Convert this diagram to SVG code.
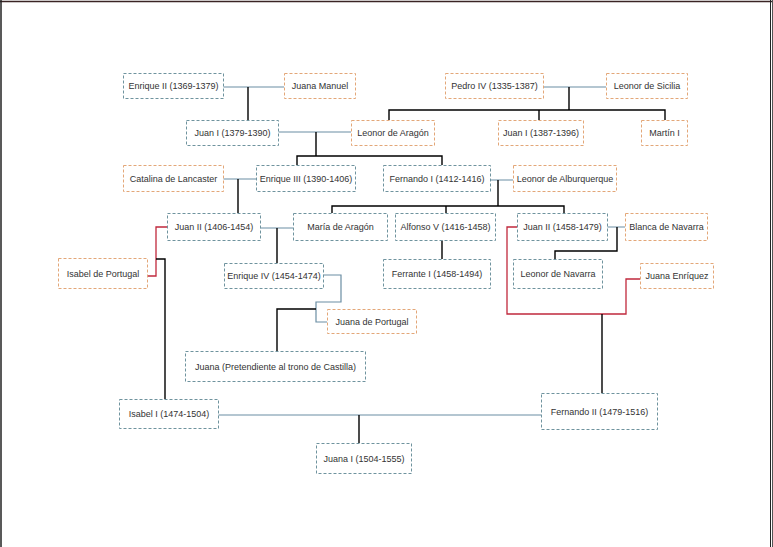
<svg xmlns="http://www.w3.org/2000/svg" width="773" height="547" viewBox="0 0 773 547">
<style>
.b{fill:#fff;stroke:#6f939e;stroke-width:1;stroke-dasharray:3,2}
.o{fill:#fff;stroke:#e3a778;stroke-width:1;stroke-dasharray:3,2}
text{font-family:"Liberation Sans",Arial,sans-serif;font-size:9px;fill:#333;text-anchor:middle}
.m{fill:none;stroke:#6b8ea3;stroke-width:1.2}
.r{fill:none;stroke:#c0283c;stroke-width:1.3}
.k{fill:none;stroke:#000;stroke-width:1.4}
</style>
<rect x="0" y="0" width="773" height="547" fill="#fff"/>
<g id="page" fill="none">
<line x1="0" y1="1.5" x2="773" y2="1.5" stroke="#3a2424" stroke-width="1.5"/>
<line x1="1" y1="0" x2="1" y2="547" stroke="#222" stroke-width="1.5"/>
<line x1="770.5" y1="0" x2="770.5" y2="547" stroke="#222" stroke-width="1"/>
<line x1="772.5" y1="0" x2="772.5" y2="547" stroke="#555" stroke-width="1"/>
</g>
<g id="connectors">
<path class="m" d="M223,87H284M543,87H606M278,132H351M223,179H256M490,180H513M260,228H293M607,227H625M323,275H341V302H316V322H327M218,415H541"/>
<path class="r" d="M167,227H156V276H147M517,227H507V314H626V279H640"/>
<path class="k" d="M248,87V120M569,87V110M389,120V110H665V120M539,110V120M316,132V156M297,165V156H442V165M498,180V206M332,213V206H564V213M446,206V213M238,179V213M277,228V263M442,240V259M617,227V251H555V259M156,259H165V399M316,309H277V351M602,314V393M359,415V443"/>
</g>
<g id="n_enrique2"><rect class="b" x="123.5" y="73.5" width="100" height="25"/><text x="173.5" y="89">Enrique II (1369-1379)</text></g>
<g id="n_juanamanuel"><rect class="o" x="284.5" y="73.5" width="71" height="25"/><text x="320" y="89">Juana Manuel</text></g>
<g id="n_pedro4"><rect class="o" x="445.5" y="73.5" width="98" height="25"/><text x="494.5" y="89">Pedro IV (1335-1387)</text></g>
<g id="n_leonorsicilia"><rect class="o" x="606.5" y="73.5" width="81" height="25"/><text x="647" y="89">Leonor de Sicilia</text></g>
<g id="n_juan1c"><rect class="b" x="186.5" y="120.5" width="92" height="25"/><text x="232.5" y="136">Juan I (1379-1390)</text></g>
<g id="n_leonoraragon"><rect class="o" x="351.5" y="120.5" width="83" height="25"/><text x="393" y="136">Leonor de Aragón</text></g>
<g id="n_juan1a"><rect class="o" x="498.5" y="120.5" width="85" height="25"/><text x="541" y="136">Juan I (1387-1396)</text></g>
<g id="n_martin1"><rect class="o" x="641.5" y="120.5" width="46" height="25"/><text x="664.5" y="136">Martín I</text></g>
<g id="n_catalina"><rect class="o" x="123.5" y="165.5" width="100" height="26"/><text x="173.5" y="181.5">Catalina de Lancaster</text></g>
<g id="n_enrique3"><rect class="b" x="256.5" y="165.5" width="99" height="26"/><text x="306" y="181.5">Enrique III (1390-1406)</text></g>
<g id="n_fernando1"><rect class="b" x="383.5" y="165.5" width="107" height="26"/><text x="437" y="181.5">Fernando I (1412-1416)</text></g>
<g id="n_leonoralb"><rect class="o" x="513.5" y="165.5" width="103" height="26"/><text x="565" y="181.5">Leonor de Alburquerque</text></g>
<g id="n_juan2c"><rect class="b" x="167.5" y="213.5" width="93" height="27"/><text x="214" y="230">Juan II (1406-1454)</text></g>
<g id="n_mariaaragon"><rect class="b" x="293.5" y="213.5" width="94" height="27"/><text x="340.5" y="230">María de Aragón</text></g>
<g id="n_alfonso5"><rect class="b" x="395.5" y="213.5" width="100" height="27"/><text x="445.5" y="230">Alfonso V (1416-1458)</text></g>
<g id="n_juan2a"><rect class="b" x="517.5" y="213.5" width="90" height="27"/><text x="562.5" y="230">Juan II (1458-1479)</text></g>
<g id="n_blanca"><rect class="o" x="625.5" y="213.5" width="82" height="27"/><text x="666.5" y="230">Blanca de Navarra</text></g>
<g id="n_isabelport"><rect class="o" x="58.5" y="258.5" width="89" height="30"/><text x="103" y="276.5">Isabel de Portugal</text></g>
<g id="n_enrique4"><rect class="b" x="224.5" y="263.5" width="99" height="25"/><text x="274" y="279">Enrique IV (1454-1474)</text></g>
<g id="n_ferrante"><rect class="b" x="383.5" y="259.5" width="107" height="29"/><text x="437" y="277">Ferrante I (1458-1494)</text></g>
<g id="n_leonornav"><rect class="b" x="513.5" y="259.5" width="89" height="29"/><text x="558" y="277">Leonor de Navarra</text></g>
<g id="n_juanaenr"><rect class="o" x="640.5" y="263.5" width="73" height="25"/><text x="677" y="279">Juana Enríquez</text></g>
<g id="n_juanaport"><rect class="o" x="327.5" y="309.5" width="89" height="24"/><text x="372" y="324.5">Juana de Portugal</text></g>
<g id="n_juanapret"><rect class="b" x="185.5" y="351.5" width="180" height="30"/><text x="275.5" y="369.5">Juana (Pretendiente al trono de Castilla)</text></g>
<g id="n_isabel1"><rect class="b" x="119.5" y="399.5" width="99" height="29"/><text x="169" y="417">Isabel I (1474-1504)</text></g>
<g id="n_fernando2"><rect class="b" x="541.5" y="393.5" width="116" height="36"/><text x="599.5" y="414.5">Fernando II (1479-1516)</text></g>
<g id="n_juana1"><rect class="b" x="316.5" y="443.5" width="95" height="30"/><text x="364" y="461.5">Juana I (1504-1555)</text></g>
</svg>
